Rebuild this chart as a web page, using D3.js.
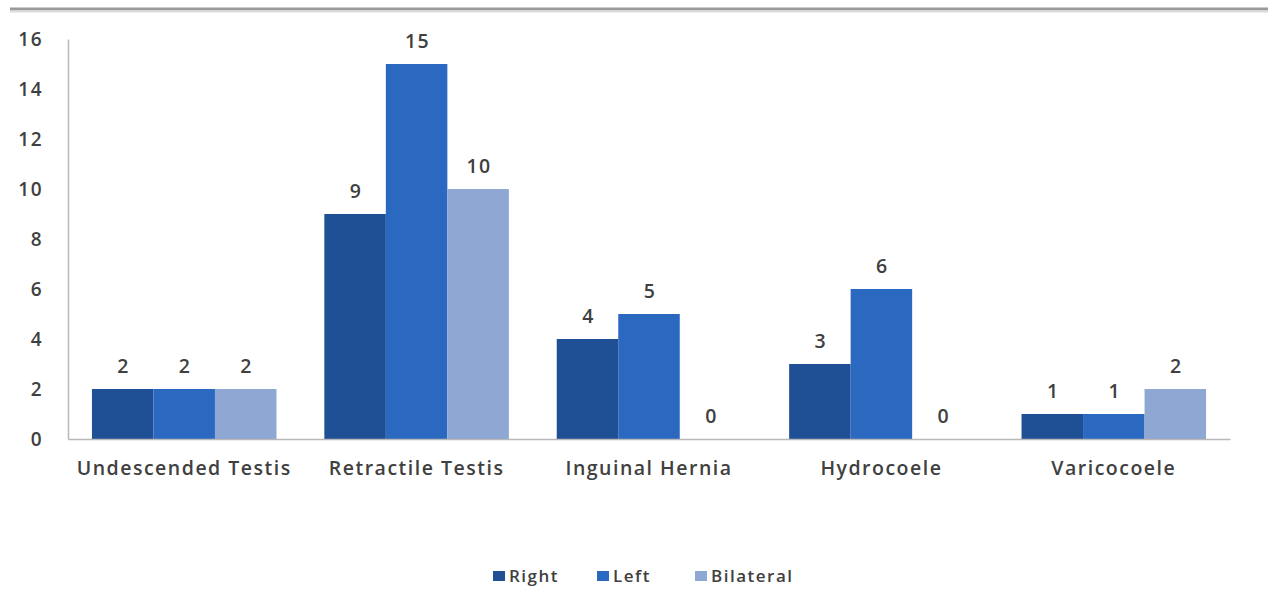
<!DOCTYPE html>
<html>
<head>
<meta charset="utf-8">
<script src="https://cdn.jsdelivr.net/npm/d3@7"></script>
<style>
  html, body { margin: 0; padding: 0; background: #ffffff; }
  svg { display: block; }
  text { font-family: "Open Sans", "DejaVu Sans", sans-serif; fill: #404040; }
</style>
</head>
<body>
<svg id="chart" width="1268" height="603"></svg>
<script>
const categories = ["Undescended Testis", "Retractile Testis", "Inguinal Hernia", "Hydrocoele", "Varicocoele"];
const seriesNames = ["Right", "Left", "Bilateral"];
const rightValues = [2, 9, 4, 3, 1];
const leftValues = [2, 15, 5, 6, 1];
const bilateralValues = [2, 10, 0, 0, 2];
const yTicks = [0, 2, 4, 6, 8, 10, 12, 14, 16];
const colors = ["#1f4f95", "#2b69c1", "#8fa7d3"];

const seriesValues = [rightValues, leftValues, bilateralValues];
const svg = d3.select("#chart");

// top border line
svg.append("line").attr("x1", 10).attr("x2", 1268).attr("y1", 9).attr("y2", 9)
  .attr("stroke", "#9a9a9a").attr("stroke-width", 3);
svg.append("line").attr("x1", 10).attr("x2", 1268).attr("y1", 11.5).attr("y2", 11.5)
  .attr("stroke", "#dcdcdc").attr("stroke-width", 2);

const plotLeft = 68, plotRight = 1230, plotTop = 39, plotBottom = 439;
const x0 = d3.scaleBand().domain(categories).range([plotLeft, plotRight]).paddingInner(0.206).paddingOuter(0.103);
const x1 = d3.scaleBand().domain(seriesNames).range([0, x0.bandwidth()]).padding(0);
const y = d3.scaleLinear().domain([0, 16]).range([plotBottom, plotTop]);

// y axis
const yAxis = svg.append("g").attr("transform", `translate(${plotLeft},0)`)
  .call(d3.axisLeft(y).tickValues(yTicks).tickSize(0).tickPadding(25));
yAxis.select(".domain").attr("stroke", "#b8b8b8").attr("stroke-width", 1.5);
yAxis.selectAll("text").attr("font-size", 19).attr("font-weight", 600).attr("fill", "#454545")
  .attr("letter-spacing", 1.5)
  .attr("font-family", "'Open Sans', sans-serif");

// bars
const groups = svg.append("g").selectAll("g").data(categories).join("g")
  .attr("transform", d => `translate(${x0(d)},0)`);

groups.selectAll("rect").data((c, i) => seriesNames.map((s, j) => ({ s, j, v: seriesValues[j][i] })))
  .join("rect")
  .attr("x", d => x1(d.s))
  .attr("width", x1.bandwidth())
  .attr("y", d => y(d.v))
  .attr("height", d => y(0) - y(d.v))
  .attr("fill", d => colors[d.j]);

groups.selectAll("text.val").data((c, i) => seriesNames.map((s, j) => ({ s, j, v: seriesValues[j][i] })))
  .join("text").attr("class", "val")
  .attr("x", d => x1(d.s) + x1.bandwidth() / 2 + 1)
  .attr("y", d => y(d.v) - 16)
  .attr("text-anchor", "middle")
  .attr("font-size", 19.5)
  .attr("font-weight", 600)
  .attr("letter-spacing", 1.5)
  .attr("fill", "#454545")
  .text(d => d.v);

// x axis
const xAxis = svg.append("g").attr("transform", `translate(0,${plotBottom})`)
  .call(d3.axisBottom(x0).tickSize(0).tickPadding(22));
xAxis.select(".domain").attr("stroke", "#b8b8b8").attr("stroke-width", 1.5);
xAxis.selectAll("text").attr("font-size", 19.5).attr("font-weight", 600).attr("fill", "#454545")
  .attr("letter-spacing", 1.5)
  .attr("font-family", "'Open Sans', sans-serif");

// legend
const legendX = [493, 597, 695];
const legend = svg.append("g");
seriesNames.forEach((s, j) => {
  legend.append("rect").attr("x", legendX[j]).attr("y", 571).attr("width", 12).attr("height", 10).attr("fill", colors[j]);
  legend.append("text").attr("x", legendX[j] + 16).attr("y", 582)
    .attr("font-size", 17).attr("font-weight", 600).attr("letter-spacing", 1.5)
    .attr("fill", "#454545").text(s);
});
</script>
</body>
</html>
